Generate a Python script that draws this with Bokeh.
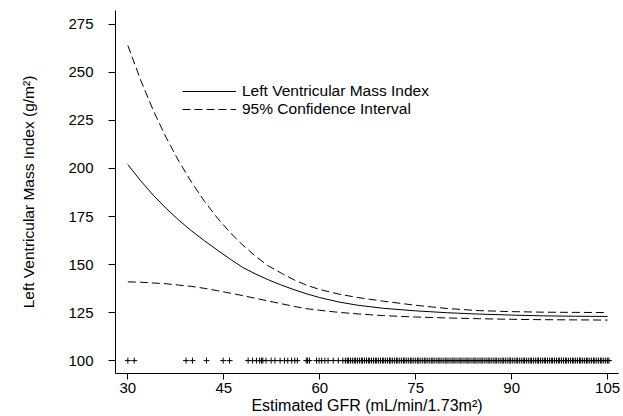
from bokeh.plotting import figure
from bokeh.models import Range1d, Legend, LegendItem, FixedTicker
from bokeh.embed import file_html
from bokeh.resources import INLINE

# ---- data ----
gfr = [30, 32, 34, 36, 38, 40, 42, 44, 46, 48, 50, 52, 54, 56, 58, 60,
       63, 66, 70, 75, 80, 85, 90, 95, 100, 105]
lvmi = [202, 193.6, 186, 179.2, 173, 167.4, 162.3, 157.5, 152.8, 148.4, 145,
        142, 139.3, 136.9, 134.7, 132.8, 130.5, 128.8, 127.2, 125.9, 124.9,
        124.2, 123.7, 123.3, 123.1, 123]
ci_upper = [264, 246, 230, 216, 203.6, 192.6, 182.8, 174.2, 166.6, 160,
            154.2, 149.2, 145.5, 142, 139.2, 137, 134.6, 132.8, 130.9, 128.8,
            127.1, 126, 125.5, 125.2, 125.1, 125]
ci_lower = [141, 140.8, 140.4, 140, 139.3, 138.6, 137.6, 136.4, 135.1, 133.8,
            132.4, 131, 129.6, 128.2, 127, 126.2, 125.1, 124.3, 123.4, 122.7,
            122.2, 121.8, 121.5, 121.3, 121.2, 121.1]

rug_gfr = [30.0, 31.0, 39.1, 40.1, 42.3, 44.9, 45.9, 48.8, 49.5, 50.1, 50.6,
           50.9, 51.1, 51.6, 52.4, 53.0, 53.8, 54.5, 55.0, 55.6, 56.1, 56.5,
           57.9, 58.1, 58.4, 59.5, 59.9, 60.3, 60.8, 61.3, 62.1, 62.9, 63.6,
           64.0, 64.3, 64.5, 64.8, 65.1, 65.4, 65.6, 65.9, 66.2, 66.5, 66.7,
           67.0, 67.3, 67.6, 67.8, 68.1, 68.4, 68.7, 68.9, 69.2, 69.5, 69.8,
           70.0, 70.3, 70.6, 70.9, 71.1, 71.4, 71.7, 72.0, 72.2, 72.5, 72.8,
           73.1, 73.3, 73.6, 73.9, 74.2, 74.4, 74.7, 75.0, 75.3, 75.5, 75.8,
           76.1, 76.4, 76.6, 76.9, 77.2, 77.5, 77.7, 78.0, 78.3, 78.6, 78.8,
           79.1, 79.4, 79.7, 79.9, 80.2, 80.5, 80.8, 81.0, 81.3, 81.6, 81.9,
           82.1, 82.4, 82.7, 83.0, 83.2, 83.5, 83.8, 84.1, 84.3, 84.6, 84.9,
           85.2, 85.4, 85.7, 86.0, 86.3, 86.5, 86.8, 87.1, 87.4, 87.6, 87.9,
           88.2, 88.5, 88.7, 89.0, 89.3, 89.6, 89.8, 90.1, 90.4, 90.7, 90.9,
           91.2, 91.5, 91.8, 92.0, 92.3, 92.6, 92.9, 93.1, 93.4, 93.7, 94.0,
           94.2, 94.5, 94.8, 95.1, 95.3, 95.6, 95.9, 96.2, 96.4, 96.7, 97.0,
           97.3, 97.5, 97.8, 98.1, 98.4, 98.6, 98.9, 99.2, 99.5, 99.7, 100.0,
           100.3, 100.6, 100.8, 101.1, 101.4, 101.7, 101.9, 102.2, 102.5,
           102.8, 103.0, 103.3, 103.6, 103.9, 104.1, 104.4, 104.7, 105.0, 105.2]
rug_level = 100
rug_y = [rug_level] * len(rug_gfr)

x_ticks = [30, 45, 60, 75, 90, 105]
y_ticks = [100, 125, 150, 175, 200, 225, 250, 275]

x_label = "Estimated GFR (mL/min/1.73m\u00b2)"
y_label = "Left Ventricular Mass Index (g/m\u00b2)"
legend_labels = ["Left Ventricular Mass Index", "95% Confidence Interval"]

FONT = "Liberation Sans"

p = figure(width=623, height=416, output_backend="svg", toolbar_location=None,
           x_range=Range1d(28.07, 106.7), y_range=Range1d(93.3, 282.2),
           min_border_left=115, min_border_right=5, min_border_top=10,
           min_border_bottom=42)
p.outline_line_color = None
p.xgrid.visible = False
p.ygrid.visible = False
p.background_fill_color = "white"
p.border_fill_color = "white"

for ax, ticks in ((p.xaxis[0], x_ticks), (p.yaxis[0], y_ticks)):
    ax.ticker = FixedTicker(ticks=ticks)
    ax.minor_tick_line_color = None
    ax.major_tick_in = 0
    ax.major_tick_out = 6
    ax.axis_line_color = "black"
    ax.major_tick_line_color = "black"
    ax.major_label_text_font = FONT
    ax.major_label_text_color = "black"
    ax.axis_label_text_font = FONT
    ax.axis_label_text_font_style = "normal"
    ax.axis_label_text_color = "black"

p.xaxis.axis_label = x_label
p.yaxis.axis_label = y_label
p.xaxis.major_label_text_font_size = "15px"
p.xaxis.axis_label_text_font_size = "16px"
p.xaxis.major_label_standoff = 3
p.xaxis.axis_label_standoff = 1
p.yaxis.major_label_text_font_size = "15px"
p.yaxis.axis_label_text_font_size = "15.5px"
p.yaxis.major_label_standoff = 15
p.yaxis.axis_label_standoff = 28
p.yaxis.major_tick_out = 7

solid = p.line(gfr, lvmi, line_color="black", line_width=1)
up = p.line(gfr, ci_upper, line_color="black", line_width=1, line_dash="8 4")
p.line(gfr, ci_lower, line_color="black", line_width=1, line_dash="8 4")
p.scatter(rug_gfr, rug_y, marker="cross", size=6, line_color="black",
          line_width=1)

legend = Legend(items=[LegendItem(label=legend_labels[0], renderers=[solid]),
                       LegendItem(label=legend_labels[1], renderers=[up])],
                location=(67, 255), glyph_width=54, glyph_height=12,
                label_height=12, label_standoff=6, spacing=-4, padding=0,
                margin=0, border_line_color=None, background_fill_alpha=0,
                label_text_font=FONT, label_text_font_size="15.5px",
                label_text_color="black")
p.add_layout(legend, "center")

open("out.html", "w").write(file_html(p, INLINE))
